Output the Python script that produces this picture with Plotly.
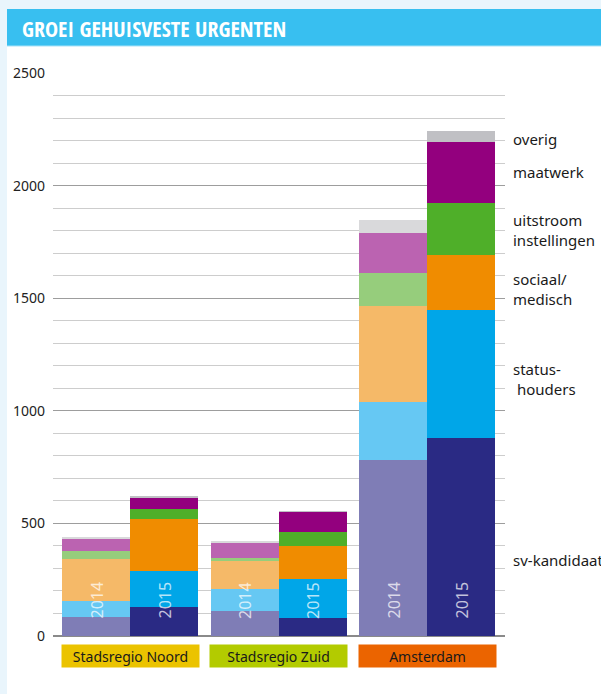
import plotly.graph_objects as go

regions = ["Stadsregio Noord", "Stadsregio Zuid", "Amsterdam"]
region_colors = ["#ebc300", "#b3cb00", "#eb6400"]
years = ["2014", "2015"]

categories = ["sv-kandidaat", "statushouders", "sociaal/medisch", "uitstroom instellingen", "maatwerk", "overig"]
sv_2014 = [84, 110, 781]
sv_2015 = [129, 80, 879]
status_2014 = [73, 99, 257]
status_2015 = [160, 173, 570]
sociaal_2014 = [185, 124, 429]
sociaal_2015 = [231, 147, 243]
uitstroom_2014 = [37, 13, 146]
uitstroom_2015 = [44, 62, 231]
maatwerk_2014 = [55, 65, 178]
maatwerk_2015 = [49, 90, 271]
overig_2014 = [4, 9, 56]
overig_2015 = [9, 3, 48]

series_2014 = [sv_2014, status_2014, sociaal_2014, uitstroom_2014, maatwerk_2014, overig_2014]
series_2015 = [sv_2015, status_2015, sociaal_2015, uitstroom_2015, maatwerk_2015, overig_2015]
colors_2014 = ["#7f7db6", "#66c8f3", "#f5b968", "#96cd7c", "#bb63b1", "#d9d9db"]
colors_2015 = ["#2a2a84", "#00a6e8", "#f08c00", "#4faf29", "#93007e", "#c0c0c4"]

right_labels = ["overig", "maatwerk", "uitstroom<br>instellingen", "sociaal/<br>medisch", "status-<br> houders", "sv-kandidaat"]
right_label_px = [139, 172, 230, 289, 379, 560]

# layout geometry (pixels)
W, H = 601, 694
L, R, T, B = 53, 505, 73, 636
PW, PH = R - L, B - T
BAR_W = 68
GROUP_STEP = 148.5
FIRST = 9


def px_x(px):
    return (px - L) / PW


def px_y(py):
    return (B - py) / PH


def bar_center(g, yi):
    return FIRST + BAR_W / 2 + g * GROUP_STEP + yi * BAR_W


fig = go.Figure()
for yi, (series, cols) in enumerate([(series_2014, colors_2014), (series_2015, colors_2015)]):
    xs = [bar_center(g, yi) for g in range(len(regions))]
    for ci, vals in enumerate(series):
        fig.add_trace(go.Bar(
            x=xs, y=vals, width=BAR_W, marker=dict(color=cols[ci], line=dict(width=0)),
            name=categories[ci] + " " + years[yi], showlegend=False, hoverinfo="skip"))

shapes = [
    dict(type="rect", xref="paper", yref="paper", x0=px_x(7), x1=px_x(W + 5), y0=px_y(H + 5), y1=px_y(46),
         fillcolor="white", line=dict(width=0), layer="below"),
    dict(type="rect", xref="paper", yref="paper", x0=px_x(7), x1=px_x(W + 5), y0=px_y(46), y1=px_y(9),
         fillcolor="#38bff0", line=dict(width=0), layer="below"),
    dict(type="line", xref="paper", yref="paper", x0=px_x(7), x1=px_x(W + 5), y0=px_y(46), y1=px_y(46),
         line=dict(color="#a9e2f8", width=1), layer="below"),
]

annotations = [
    dict(text="<b>GROEI GEHUISVESTE URGENTEN</b>", xref="paper", yref="paper", x=px_x(20), y=px_y(28),
         xanchor="left", yanchor="middle", showarrow=False,
         font=dict(family="Open Sans Condensed, Roboto Condensed, Roboto", size=22, color="white"),
         ),
]

for g, name in enumerate(regions):
    cx = (bar_center(g, 0) + bar_center(g, 1)) / 2
    annotations.append(dict(text=name, x=cx, xref="x", yref="paper", y=px_y(656), xanchor="center", yanchor="middle",
                            showarrow=False, bgcolor=region_colors[g], width=135, height=20,
                            font=dict(family="Noto Sans", size=14, color="#1a1a1a")))
    for yi, yr in enumerate(years):
        annotations.append(dict(text=yr, x=bar_center(g, yi), xref="x", yref="paper", y=px_y(621),
                                xanchor="center", yanchor="bottom", textangle=-90, showarrow=False,
                                font=dict(family="Noto Sans", size=16, color="rgba(255,255,255,0.72)")))

for lab, py in zip(right_labels, right_label_px):
    annotations.append(dict(text=lab, xref="paper", yref="paper", x=px_x(511), y=px_y(py), xanchor="left",
                            yanchor="middle", align="left", showarrow=False,
                            font=dict(family="Noto Sans", size=15, color="#1a1a1a")))

fig.update_layout(
    width=W, height=H, barmode="stack", bargap=0,
    margin=dict(l=L, r=W - R, t=T, b=H - B, pad=0),
    paper_bgcolor="#e9f5fc", plot_bgcolor="rgba(0,0,0,0)",
    shapes=shapes, annotations=annotations, showlegend=False,
    xaxis=dict(range=[0, PW], showgrid=False, zeroline=False, showticklabels=False, fixedrange=True),
    yaxis=dict(range=[0, 2500], dtick=500, tick0=0, showgrid=True, gridcolor="rgba(60,60,60,0.5)", gridwidth=1,
               zeroline=True, zerolinecolor="rgba(60,60,60,0.6)", zerolinewidth=1.5,
               layer="above traces", ticks="", ticklabelstandoff=7,
               tickfont=dict(family="Noto Sans", size=14, color="#222"),
               minor=dict(dtick=100, tick0=0, showgrid=True, gridcolor="rgba(90,90,90,0.3)", gridwidth=1),
               fixedrange=True),
)

fig.write_html("out.html")
